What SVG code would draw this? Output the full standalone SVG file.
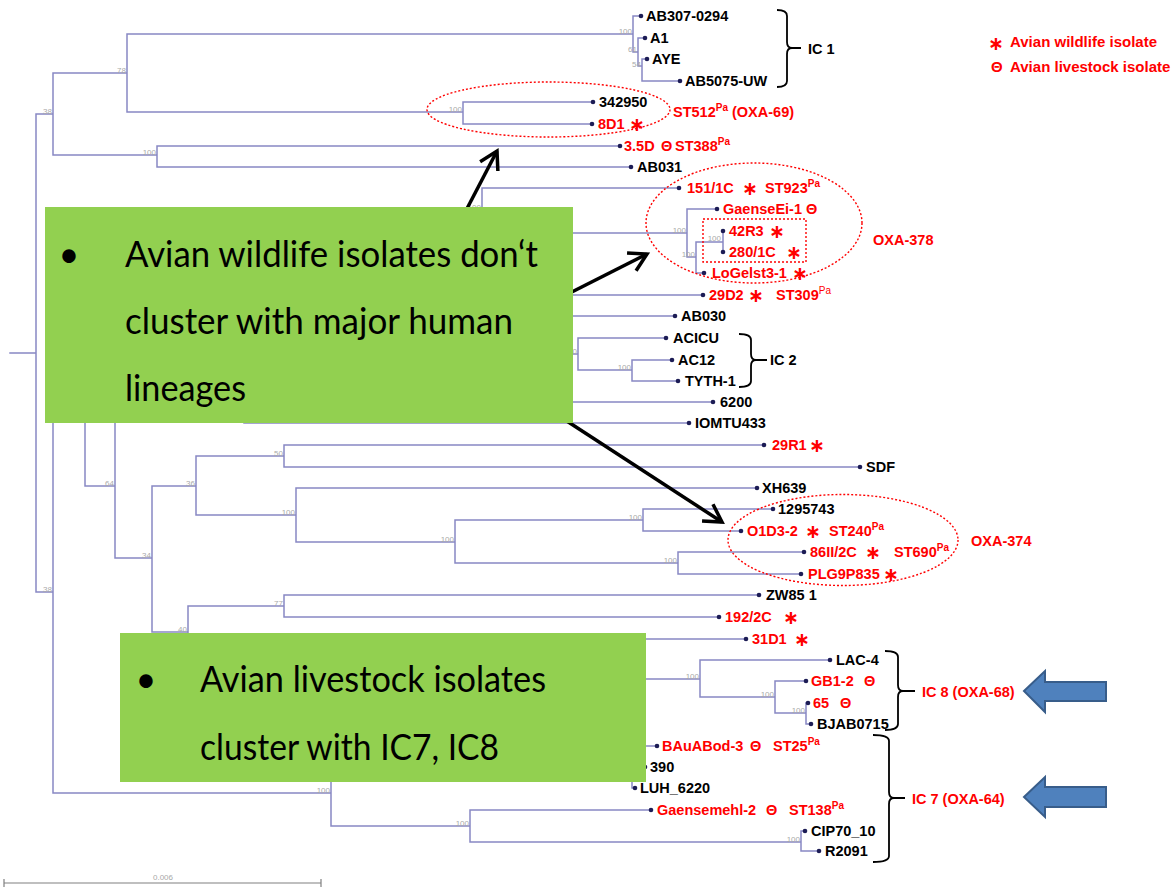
<svg xmlns="http://www.w3.org/2000/svg" width="1173" height="892" viewBox="0 0 1173 892">
<defs>
<style>
.t{stroke:#8888c4;stroke-width:1.5;fill:none;stroke-linecap:square}
.d{fill:#1c1c55}
.l{font-family:"Liberation Sans",Arial,sans-serif;font-weight:bold;font-size:14.5px;fill:#000}
.r{fill:#ff0000}
.bs{font-family:"Liberation Sans",Arial,sans-serif;font-size:8px;fill:#a9a9a9;text-anchor:end}
.s{font-size:10px}
.a{font-family:"DejaVu Sans",sans-serif;font-weight:bold;font-size:19px;text-anchor:middle;fill:#ff0000}
.br{stroke:#000;stroke-width:1.8;fill:none}
.el{stroke:#ff0000;stroke-width:1.4;stroke-dasharray:2 2;fill:none}
.ar{stroke:#000;stroke-width:3.5;fill:none}
.gb{fill:#92d050}
.bt{font-family:Lato,"Open Sans",sans-serif;font-size:36px;fill:#000}
.ba{fill:#4f81bd;stroke:#385d8a;stroke-width:2}
.sc{stroke:#808080;stroke-width:1.2;fill:none}
</style>
<marker id="ah" markerUnits="userSpaceOnUse" viewBox="-22 -13 26 26" refX="0" refY="0" markerWidth="26" markerHeight="26" orient="auto">
<path d="M-17.3,-10 L0,0 L-17.3,10" fill="none" stroke="#000" stroke-width="3.5"/>
</marker>
</defs>
<rect width="1173" height="892" fill="#fff"/>
<g id="connectors">
<path class="t" d="M10,353H36 M36,114V592 M36,114H53 M36,592H53
M53,73V155 M53,73H127 M53,155H157
M127,34V112 M127,34H633 M127,112H463
M633,16V52 M633,16H641 M633,52H638
M638,38V66 M638,38H645 M638,66H642
M642,59V81 M642,59H647 M642,81H680
M463,102V124 M463,102H593 M463,124H592
M157,146V167 M157,146H620 M157,167H631
M53,389V793 M53,389H85 M53,793H331
M85,293V486 M85,293H140 M85,486H115
M140,252V335 M140,252H300 M140,335H320
M300,210V295 M300,210H482 M300,295H703
M482,188V233 M482,188H679 M482,233H687
M687,209V257 M687,209H717 M687,257H696
M696,242V273 M696,242H723 M696,273H704
M723,231V252
M320,316V354 M320,316H675 M320,354H578
M578,338V370 M578,338H666 M578,370H632
M632,360V381 M632,360H672 M632,381H678
M115,413V558 M115,413H244 M115,558H152
M244,402V423 M244,402H713 M244,423H689
M152,486V632 M152,486H196 M152,632H188
M196,456V515 M196,456H284 M196,515H296
M284,445V467 M284,445H764 M284,467H860
M296,488V542 M296,488H757 M296,542H455
M455,520V563 M455,520H643 M455,563H678
M643,509V531 M643,509H773 M643,531H741
M678,552V574 M678,552H804 M678,574H801
M188,606V658 M188,606H284 M188,658H260
M284,595V617 M284,595H759 M284,617H719
M260,639V679 M260,639H746 M260,679H700
M700,660V697 M700,660H830 M700,697H775
M775,681V713 M775,681H806 M775,713H806
M806,703V724 M806,703H808 M806,724H811
M331,760V826 M331,760H600 M331,826H470
M600,746V777 M600,746H657 M600,777H632
M632,767V788 M632,767H645 M632,788H635
M470,810V842 M470,810H651 M470,842H801
M801,831V851 M801,831H805 M801,851H819"/>
<g id="bootstrap">
<text class="bs" x="126" y="73">78</text>
<text class="bs" x="52" y="114">38</text>
<text class="bs" x="156" y="155">100</text>
<text class="bs" x="632" y="34">100</text>
<text class="bs" x="637" y="52">61</text>
<text class="bs" x="641" y="67">54</text>
<text class="bs" x="462" y="112">100</text>
<text class="bs" x="481" y="210">100</text>
<text class="bs" x="686" y="233">100</text>
<text class="bs" x="695" y="257">100</text>
<text class="bs" x="721" y="241">100</text>
<text class="bs" x="577" y="354">100</text>
<text class="bs" x="631" y="370">100</text>
<text class="bs" x="283" y="456">50</text>
<text class="bs" x="114" y="486">64</text>
<text class="bs" x="195" y="486">36</text>
<text class="bs" x="295" y="515">100</text>
<text class="bs" x="151" y="558">34</text>
<text class="bs" x="52" y="592">38</text>
<text class="bs" x="283" y="606">77</text>
<text class="bs" x="187" y="632">40</text>
<text class="bs" x="454" y="542">100</text>
<text class="bs" x="642" y="520">100</text>
<text class="bs" x="677" y="563">100</text>
<text class="bs" x="699" y="679">100</text>
<text class="bs" x="774" y="697">100</text>
<text class="bs" x="805" y="713">100</text>
<text class="bs" x="330" y="793">100</text>
<text class="bs" x="469" y="826">100</text>
<text class="bs" x="800" y="842">100</text>
</g>
</g>
<g id="scale">
<path class="sc" d="M4,883H321 M4,879V887 M321,879V887"/>
<text class="bs" x="173" y="880" style="text-anchor:end">0.006</text>
</g>
<g id="leaves">
<g id="n-AB307-0294"><circle class="d" cx="641" cy="16" r="2.3"/><text class="l" x="646" y="21">AB307-0294</text></g>
<g id="n-A1"><circle class="d" cx="645" cy="38" r="2.3"/><text class="l" x="650" y="43">A1</text></g>
<g id="n-AYE"><circle class="d" cx="647" cy="59" r="2.3"/><text class="l" x="652" y="64">AYE</text></g>
<g id="n-AB5075-UW"><circle class="d" cx="680" cy="81" r="2.3"/><text class="l" x="685" y="86">AB5075-UW</text></g>
<g id="n-342950"><circle class="d" cx="593" cy="102" r="2.3"/><text class="l" x="599" y="107">342950</text></g>
<g id="n-8D1"><circle class="d" cx="592" cy="124" r="2.3"/><text class="l r" x="598" y="129">8D1</text><text class="a" x="637" y="131">∗</text></g>
<g id="n-3.5D"><circle class="d" cx="620" cy="146" r="2.3"/><text class="l r" x="624" y="151">3.5D</text><text class="l r" x="661" y="151">Θ</text><text class="l r" x="675" y="151">ST388<tspan class="s" dy="-6">Pa</tspan></text></g>
<g id="n-AB031"><circle class="d" cx="631" cy="167" r="2.3"/><text class="l" x="637" y="172">AB031</text></g>
<g id="n-151-1C"><circle class="d" cx="679" cy="188" r="2.3"/><text class="l r" x="687" y="193">151/1C</text><text class="a" x="750" y="195">∗</text><text class="l r" x="765" y="193">ST923<tspan class="s" dy="-6">Pa</tspan></text></g>
<g id="n-GaenseEi-1"><circle class="d" cx="717" cy="209" r="2.3"/><text class="l r" x="723" y="214">GaenseEi-1</text><text class="l r" x="806" y="214">Θ</text></g>
<g id="n-42R3"><circle class="d" cx="723" cy="231" r="2.3"/><text class="l r" x="729" y="236">42R3</text><text class="a" x="777" y="238">∗</text></g>
<g id="n-280-1C"><circle class="d" cx="723" cy="252" r="2.3"/><text class="l r" x="729" y="257">280/1C</text><text class="a" x="794" y="259">∗</text></g>
<g id="n-LoGelst3-1"><circle class="d" cx="704" cy="273" r="2.3"/><text class="l r" x="712" y="278">LoGelst3-1</text><text class="a" x="800" y="280">∗</text></g>
<g id="n-29D2"><circle class="d" cx="703" cy="295" r="2.3"/><text class="l r" x="709" y="300">29D2</text><text class="a" x="756" y="302">∗</text><text class="l r" x="776" y="300">ST309<tspan class="s" dy="-6" font-weight="normal">Pa</tspan></text></g>
<g id="n-AB030"><circle class="d" cx="675" cy="316" r="2.3"/><text class="l" x="681" y="321">AB030</text></g>
<g id="n-ACICU"><circle class="d" cx="666" cy="338" r="2.3"/><text class="l" x="673" y="343">ACICU</text></g>
<g id="n-AC12"><circle class="d" cx="672" cy="360" r="2.3"/><text class="l" x="678" y="365">AC12</text></g>
<g id="n-TYTH-1"><circle class="d" cx="678" cy="381" r="2.3"/><text class="l" x="685" y="386">TYTH-1</text></g>
<g id="n-6200"><circle class="d" cx="713" cy="402" r="2.3"/><text class="l" x="720" y="407">6200</text></g>
<g id="n-IOMTU433"><circle class="d" cx="689" cy="423" r="2.3"/><text class="l" x="695" y="428">IOMTU433</text></g>
<g id="n-29R1"><circle class="d" cx="764" cy="445" r="2.3"/><text class="l r" x="772" y="450">29R1</text><text class="a" x="817" y="452">∗</text></g>
<g id="n-SDF"><circle class="d" cx="860" cy="467" r="2.3"/><text class="l" x="866" y="472">SDF</text></g>
<g id="n-XH639"><circle class="d" cx="757" cy="488" r="2.3"/><text class="l" x="762" y="493">XH639</text></g>
<g id="n-1295743"><circle class="d" cx="773" cy="509" r="2.3"/><text class="l" x="778" y="514">1295743</text></g>
<g id="n-O1D3-2"><circle class="d" cx="741" cy="531" r="2.3"/><text class="l r" x="747" y="536">O1D3-2</text><text class="a" x="813" y="538">∗</text><text class="l r" x="829" y="536">ST240<tspan class="s" dy="-6">Pa</tspan></text></g>
<g id="n-86II-2C"><circle class="d" cx="804" cy="552" r="2.3"/><text class="l r" x="810" y="557">86II/2C</text><text class="a" x="873" y="559">∗</text><text class="l r" x="894" y="557">ST690<tspan class="s" dy="-6">Pa</tspan></text></g>
<g id="n-PLG9P835"><circle class="d" cx="801" cy="574" r="2.3"/><text class="l r" x="808" y="579">PLG9P835</text><text class="a" x="891" y="581">∗</text></g>
<g id="n-ZW85-1"><circle class="d" cx="759" cy="595" r="2.3"/><text class="l" x="766" y="600">ZW85 1</text></g>
<g id="n-192-2C"><circle class="d" cx="719" cy="617" r="2.3"/><text class="l r" x="725" y="622">192/2C</text><text class="a" x="791" y="624">∗</text></g>
<g id="n-31D1"><circle class="d" cx="746" cy="639" r="2.3"/><text class="l r" x="752" y="644">31D1</text><text class="a" x="802" y="646">∗</text></g>
<g id="n-LAC-4"><circle class="d" cx="830" cy="660" r="2.3"/><text class="l" x="836" y="665">LAC-4</text></g>
<g id="n-GB1-2"><circle class="d" cx="806" cy="681" r="2.3"/><text class="l r" x="811" y="686">GB1-2</text><text class="l r" x="864" y="686">Θ</text></g>
<g id="n-65"><circle class="d" cx="808" cy="703" r="2.3"/><text class="l r" x="813" y="708">65</text><text class="l r" x="840" y="708">Θ</text></g>
<g id="n-BJAB0715"><circle class="d" cx="811" cy="724" r="2.3"/><text class="l" x="817" y="729">BJAB0715</text></g>
<g id="n-BAuABod-3"><circle class="d" cx="657" cy="746" r="2.3"/><text class="l r" x="662" y="751">BAuABod-3</text><text class="l r" x="750" y="751">Θ</text><text class="l r" x="773" y="751">ST25<tspan class="s" dy="-6">Pa</tspan></text></g>
<g id="n-390"><circle class="d" cx="645" cy="767" r="2.3"/><text class="l" x="650" y="772">390</text></g>
<g id="n-LUH_6220"><circle class="d" cx="635" cy="788" r="2.3"/><text class="l" x="640" y="793">LUH_6220</text></g>
<g id="n-Gaensemehl-2"><circle class="d" cx="651" cy="810" r="2.3"/><text class="l r" x="657" y="815">Gaensemehl-2</text><text class="l r" x="766" y="815">Θ</text><text class="l r" x="789" y="815">ST138<tspan class="s" dy="-6">Pa</tspan></text></g>
<g id="n-CIP70_10"><circle class="d" cx="805" cy="831" r="2.3"/><text class="l" x="811" y="836">CIP70_10</text></g>
<g id="n-R2091"><circle class="d" cx="819" cy="851" r="2.3"/><text class="l" x="825" y="856">R2091</text></g>
</g>
<g id="groups">
<g id="st512"><ellipse class="el" cx="548.5" cy="109.5" rx="121.5" ry="27.5"/><text class="l r" x="673" y="117">ST512<tspan class="s" dy="-6">Pa</tspan><tspan dy="6"> (OXA-69)</tspan></text></g>
<g id="oxa378"><ellipse class="el" cx="754" cy="223" rx="108" ry="60"/><rect class="el" x="703" y="219" width="103" height="43"/><text class="l r" x="873" y="245">OXA-378</text></g>
<g id="oxa374"><ellipse class="el" cx="843" cy="540" rx="115" ry="45.5"/><text class="l r" x="971" y="546">OXA-374</text></g>
<g id="ic1"><path class="br" d="M777,10 Q787,10 787,16 L787,42 Q787,48 792,48 Q787,48 787,54 L787,81 Q787,87 777,87 M792,48 H801"/><text class="l" x="808" y="54">IC 1</text></g>
<g id="ic2"><path class="br" d="M739,334 Q751,334 751,340 L751,354 Q751,360 756,360 Q751,360 751,366 L751,381 Q751,387 739,387 M756,360 H767"/><text class="l" x="770" y="365">IC 2</text></g>
<g id="ic8"><path class="br" d="M885,651 Q898,651 898,657 L898,685 Q898,691 903,691 Q898,691 898,697 L898,724 Q898,730 885,730 M903,691 H915"/><text class="l r" x="922" y="697">IC 8 (OXA-68)</text><polygon class="ba" points="1024,691 1045,671 1045,682 1106,682 1106,701 1045,701 1045,712"/></g>
<g id="ic7"><path class="br" d="M873,735 Q889,735 889,741 L889,792 Q889,798 894,798 Q889,798 889,804 L889,856 Q889,862 873,862 M894,798 H905"/><text class="l r" x="912" y="804">IC 7 (OXA-64)</text><polygon class="ba" points="1024,797 1045,777 1045,787 1106,787 1106,807 1045,807 1045,817"/></g>
</g>
<g id="legend">
<text class="a" x="996" y="50">∗</text><text class="l r" x="1010" y="47" style="font-size:15px">Avian wildlife isolate</text>
<text class="l r" x="991" y="72" style="font-size:15px">Θ</text><text class="l r" x="1010" y="72" style="font-size:15px">Avian livestock isolate</text>
</g>
<g id="arrows">
<line class="ar" x1="460" y1="222" x2="497" y2="151" marker-end="url(#ah)"/>
<line class="ar" x1="558" y1="299" x2="647" y2="254" marker-end="url(#ah)"/>
<line class="ar" x1="556" y1="414" x2="722" y2="522" marker-end="url(#ah)"/>
</g>
<g id="callout-wildlife">
<rect class="gb" x="45" y="207" width="528" height="216"/>
<text class="bt" x="69" y="267" text-anchor="middle">•</text>
<text class="bt" x="125" y="267" textLength="413" lengthAdjust="spacingAndGlyphs">Avian wildlife isolates don‘t</text>
<text class="bt" x="125" y="334" textLength="388" lengthAdjust="spacingAndGlyphs">cluster with major human</text>
<text class="bt" x="125" y="401" textLength="121" lengthAdjust="spacingAndGlyphs">lineages</text>
</g>
<g id="callout-livestock">
<rect class="gb" x="120" y="633" width="526" height="149"/>
<text class="bt" x="146" y="692" text-anchor="middle">•</text>
<text class="bt" x="200" y="692" textLength="346" lengthAdjust="spacingAndGlyphs">Avian livestock isolates</text>
<text class="bt" x="200" y="760" textLength="299" lengthAdjust="spacingAndGlyphs">cluster with IC7, IC8</text>
</g>
</svg>
